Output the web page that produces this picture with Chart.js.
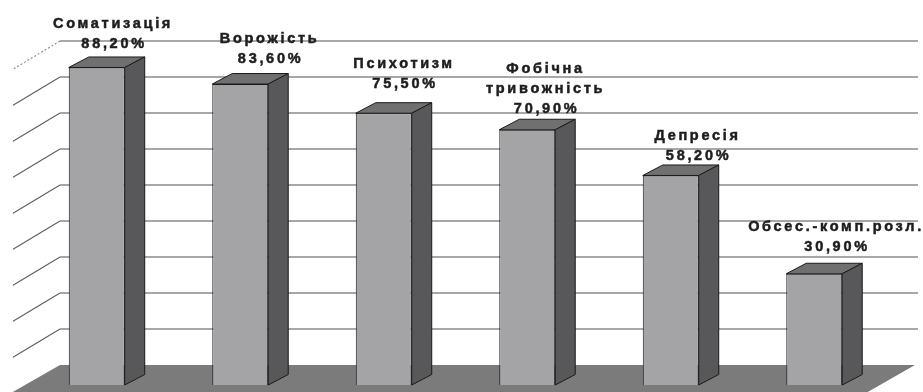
<!DOCTYPE html>
<html>
<head>
<meta charset="utf-8">
<script src="https://cdn.jsdelivr.net/npm/chart.js@4.4.1/dist/chart.umd.min.js"></script>
<style>
  html, body { margin: 0; padding: 0; background: #ffffff; }
  #wrap { width: 923px; height: 392px; position: relative; }
</style>
</head>
<body>
<div id="wrap"><canvas id="chart"></canvas></div>
<script>
// Categories (multi-line names) and percentages
const categories = [
  ['Соматизація'],
  ['Ворожість'],
  ['Психотизм'],
  ['Фобічна', 'тривожність'],
  ['Депресія'],
  ['Обсес.-комп.розл.']
];
const values = [88.2, 83.6, 75.5, 70.9, 58.2, 30.9];
const gridValues = [10, 20, 30, 40, 50, 60, 70, 80, 90];

// Small per-label nudges (px) for the callout text above each bar
const labelNudge = [[-4, 1], [9, -1], [0, -5], [-2, 3.5], [6.5, 5], [1.5, -2.5]];

// Pseudo-3D geometry
const WALL_DX = 35, WALL_DY = -20;   // front plane -> back wall
const BAR_DX = 20, BAR_DY = -10.5;   // bar depth

const fmt = v => v.toFixed(2).replace('.', ',') + '%';

const scenery = {
  id: 'scenery',
  beforeDatasetsDraw(chart) {
    const { ctx, chartArea: a, scales: { y } } = chart;
    const y0 = y.getPixelForValue(0);
    const wl = a.left + WALL_DX;
    const wr = a.right + 32;
    const fr = a.right + 29;
    const k = -WALL_DY / WALL_DX;
    ctx.save();
    // floor
    ctx.fillStyle = '#7b7b7b';
    ctx.beginPath();
    ctx.moveTo(wl, y0 + WALL_DY);
    ctx.lineTo(fr, y0 + WALL_DY);
    ctx.lineTo(fr - 100, y0 + WALL_DY + 100 * k);
    ctx.lineTo(wl - 100, y0 + WALL_DY + 100 * k);
    ctx.closePath();
    ctx.fill();
    // back wall grid and left wall lines
    gridValues.forEach((v, i) => {
      const yy = y.getPixelForValue(v) + WALL_DY;
      ctx.strokeStyle = '#505050';
      ctx.lineWidth = 1.1;
      ctx.setLineDash([]);
      ctx.beginPath();
      ctx.moveTo(wl, yy);
      ctx.lineTo(wr, yy);
      ctx.stroke();
      const top = i === gridValues.length - 1;
      ctx.strokeStyle = top ? '#8a8a8a' : '#5e5e5e';
      ctx.setLineDash(top ? [2, 2] : []);
      ctx.beginPath();
      ctx.moveTo(wl, yy);
      ctx.lineTo(wl - 47, yy + 47 * 0.6);
      ctx.stroke();
    });
    ctx.restore();
  },
  afterDatasetsDraw(chart) {
    const { ctx } = chart;
    const meta = chart.getDatasetMeta(0);
    ctx.save();
    ctx.lineWidth = 1;
    ctx.strokeStyle = '#1a1a1a';
    ctx.lineJoin = 'round';
    meta.data.forEach((bar, i) => {
      const { x, y, base, width } = bar.getProps(['x', 'y', 'base', 'width'], true);
      const l = x - width / 2, r = x + width / 2;
      // top face
      ctx.fillStyle = '#707072';
      ctx.beginPath();
      ctx.moveTo(l, y);
      ctx.lineTo(l + BAR_DX, y + BAR_DY);
      ctx.lineTo(r + BAR_DX, y + BAR_DY);
      ctx.lineTo(r, y);
      ctx.closePath();
      ctx.fill();
      ctx.stroke();
      // side face
      ctx.fillStyle = '#58585a';
      ctx.beginPath();
      ctx.moveTo(r, y);
      ctx.lineTo(r + BAR_DX, y + BAR_DY);
      ctx.lineTo(r + BAR_DX, base + BAR_DY);
      ctx.lineTo(r, base);
      ctx.closePath();
      ctx.fill();
      ctx.stroke();
    });
    ctx.restore();

    // callouts: category name lines + value
    ctx.save();
    ctx.fillStyle = '#1e1e1e';
    ctx.strokeStyle = '#1e1e1e';
    ctx.lineWidth = 0.5;
    ctx.font = 'bold 14.5px "Liberation Sans", Arial, sans-serif';
    ctx.letterSpacing = '2.7px';
    ctx.textAlign = 'center';
    ctx.textBaseline = 'middle';
    meta.data.forEach((bar, i) => {
      const { x, y } = bar.getProps(['x', 'y'], true);
      const cx = x + BAR_DX + labelNudge[i][0] + 1.3;
      const vy = y + BAR_DY - 14 + labelNudge[i][1];
      ctx.fillText(fmt(values[i]), cx, vy);
      ctx.strokeText(fmt(values[i]), cx, vy);
      const lines = categories[i];
      lines.forEach((t, j) => {
        const ly = vy - 20 * (lines.length - j);
        ctx.fillText(t, cx - 1, ly);
        ctx.strokeText(t, cx - 1, ly);
      });
    });
    ctx.restore();
  }
};

new Chart(document.getElementById('chart'), {
  type: 'bar',
  data: {
    labels: categories,
    datasets: [{
      data: values,
      backgroundColor: '#a4a4a6',
      borderColor: '#1a1a1a',
      borderWidth: 1,
      categoryPercentage: 1,
      barPercentage: 0.39
    }]
  },
  options: {
    responsive: true,
    maintainAspectRatio: false,
    animation: false,
    layout: { padding: { left: 25, right: 37, top: 61, bottom: 7 } },
    plugins: { legend: { display: false }, tooltip: { enabled: false } },
    scales: {
      x: { display: false },
      y: { display: false, min: 0, max: 90 }
    }
  },
  plugins: [scenery]
});
</script>
</body>
</html>
